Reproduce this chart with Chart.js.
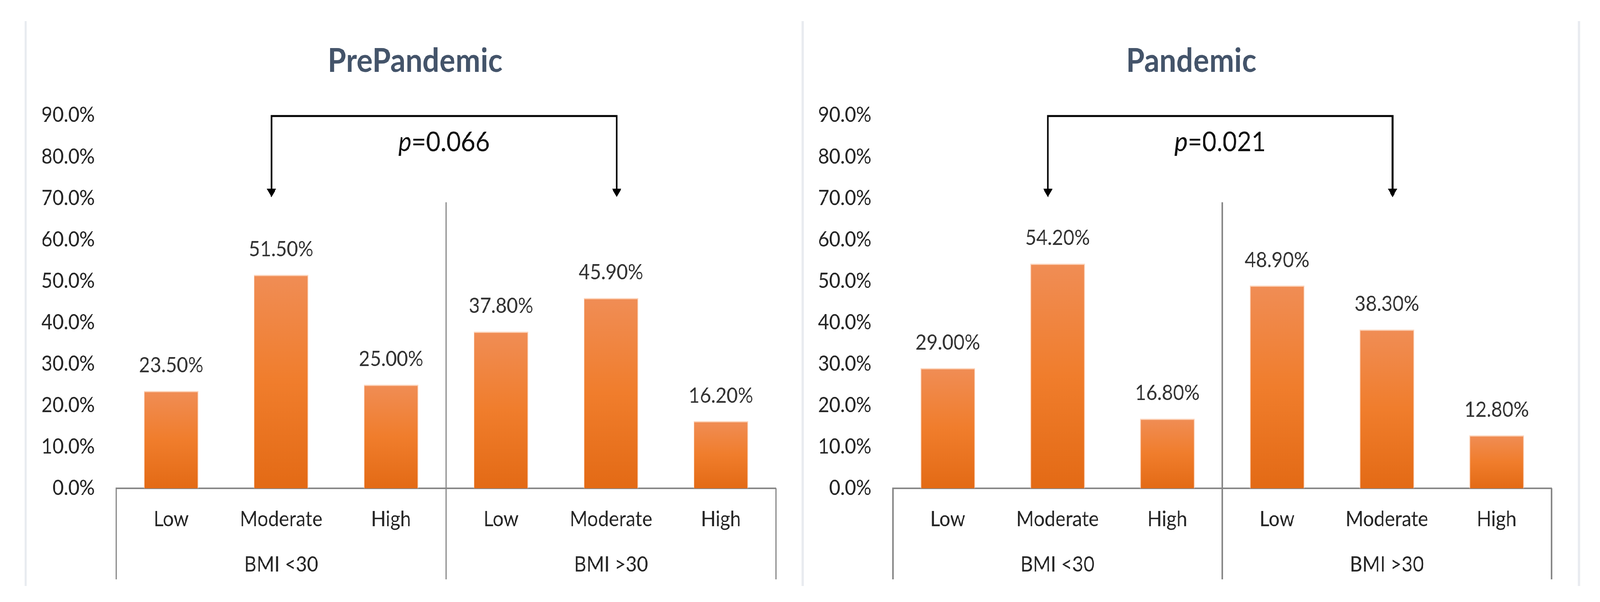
<!DOCTYPE html>
<html>
<head>
<meta charset="utf-8">
<script src="https://cdn.jsdelivr.net/npm/chart.js@4"></script>
<style>
  html, body { margin: 0; padding: 0; background: #fff; overflow: hidden; }
  #page { position: relative; width: 4489px; height: 1541px; overflow: hidden; transform-origin: 0 0; }
  .panel { position: absolute; top: 0; height: 1541px; }
  #left { left: 0; width: 2245px; }
  #right { left: 2245px; width: 2244px; }
  .frame { position: absolute; top: 54px; width: 6px; height: 1446px; background: #e8ebf0; }
</style>
</head>
<body>
<div id="page">
  <div class="frame" style="left:69px"></div>
  <div class="frame" style="left:2249px"></div>
  <div class="frame" style="left:4427px"></div>
  <div class="panel" id="left"><canvas id="preChart" width="2245" height="1541"></canvas></div>
  <div class="panel" id="right"><canvas id="panChart" width="2244" height="1541"></canvas></div>
</div>
<script>
const levels = ['Low', 'Moderate', 'High', 'Low', 'Moderate', 'High'];
const groups = ['BMI <30', 'BMI >30'];
const prePandemic = [23.5, 51.5, 25.0, 37.8, 45.9, 16.2];
const pandemic = [29.0, 54.2, 16.8, 48.9, 38.3, 12.8];
const yTicks = [0, 10, 20, 30, 40, 50, 60, 70, 80, 90];

const FONT = 'Lato, "Open Sans", sans-serif';

// the page is laid out at 4489x1541; stretch it onto the window we actually get
const sx = window.innerWidth / 4489, sy = window.innerHeight / 1541;
document.getElementById('page').style.transform = 'scale(' + sx + ',' + sy + ')';

function barFill(c) {
    const chart = c.chart;
    if (!chart.chartArea || c.raw === undefined) return '#f07f2e';
    const y = chart.scales.y;
    const top = y.getPixelForValue(c.raw);
    const bot = y.getPixelForValue(0);
    const g = chart.ctx.createLinearGradient(0, top, 0, bot);
    g.addColorStop(0, '#f08d55');
    g.addColorStop(0.5, '#f07d2c');
    g.addColorStop(1, '#e36a15');
    return g;
}

// title, value labels, bracket with arrows, group dividers
const decorations = {
    id: 'decorations',
    afterDatasetsDraw(chart, args, opts) {
        const ctx = chart.ctx;
        const x = chart.scales.x, y = chart.scales.y;
        const area = chart.chartArea;
        ctx.save();

        // title
        ctx.fillStyle = '#44546a';
        ctx.font = 'bold 84px ' + FONT;
        ctx.textAlign = 'center';
        ctx.textBaseline = 'middle';
        ctx.fillText(opts.title, (area.left + area.right) / 2 - 87, 157);

        // value labels
        ctx.fillStyle = '#333333';
        ctx.font = '54px ' + FONT;
        const meta = chart.getDatasetMeta(0);
        meta.data.forEach((bar, i) => {
            const v = chart.data.datasets[0].data[i];
            ctx.fillText(v.toFixed(2) + '%', bar.x, bar.y - 65);
        });

        // category separators
        ctx.strokeStyle = '#878787';
        ctx.lineWidth = 4;
        const mid = (x.getPixelForValue(2) + x.getPixelForValue(3)) / 2;
        const bottom = 1483;
        ctx.beginPath();
        ctx.moveTo(area.left, area.bottom); ctx.lineTo(area.left, bottom);
        ctx.moveTo(area.right, area.bottom); ctx.lineTo(area.right, bottom);
        ctx.moveTo(mid, y.getPixelForValue(69)); ctx.lineTo(mid, bottom);
        ctx.stroke();

        // bracket
        const bx1 = x.getPixelForValue(1) - 27;
        const bx2 = x.getPixelForValue(4) + 16;
        const by = y.getPixelForValue(89.8);
        const tip = y.getPixelForValue(70.2);
        ctx.strokeStyle = '#000';
        ctx.fillStyle = '#000';
        ctx.lineWidth = 5;
        ctx.beginPath();
        ctx.moveTo(bx1, tip - 18);
        ctx.lineTo(bx1, by);
        ctx.lineTo(bx2, by);
        ctx.lineTo(bx2, tip - 18);
        ctx.stroke();
        [bx1, bx2].forEach(px => {
            ctx.beginPath();
            ctx.moveTo(px - 13, tip - 22);
            ctx.lineTo(px + 13, tip - 22);
            ctx.lineTo(px, tip);
            ctx.closePath();
            ctx.fill();
        });

        // p value
        ctx.font = '70px ' + FONT;
        ctx.textBaseline = 'middle';
        ctx.textAlign = 'left';
        const rest = '=' + opts.p;
        const pw = ctx.measureText(rest).width;
        ctx.font = 'italic 70px ' + FONT;
        const iw = ctx.measureText('p').width;
        const cx = (bx1 + bx2) / 2;
        const start = cx - (pw + iw) / 2;
        const py = y.getPixelForValue(83.5);
        ctx.fillStyle = '#111';
        ctx.fillText('p', start, py);
        ctx.font = '70px ' + FONT;
        ctx.fillText(rest, start + iw, py);

        ctx.restore();
    }
};

function makeChart(id, values, title, p, yWidth, rightPad) {
    return new Chart(document.getElementById(id), {
        type: 'bar',
        data: {
            labels: levels,
            datasets: [{
                data: values,
                backgroundColor: barFill,
                borderColor: 'rgba(251, 205, 175, 0.85)',
                borderWidth: { top: 3, left: 2, right: 2, bottom: 0 },
                borderSkipped: 'bottom',
                barPercentage: 1,
                categoryPercentage: 0.497
            }]
        },
        options: {
            responsive: false,
            devicePixelRatio: 1,
            animation: false,
            layout: { padding: { top: 295, left: 0, right: rightPad, bottom: 41 } },
            plugins: {
                legend: { display: false },
                tooltip: { enabled: false },
                decorations: { title: title, p: p }
            },
            scales: {
                x: {
                    type: 'category',
                    weight: 0,
                    grid: { display: false, drawTicks: false },
                    border: { display: true, color: '#878787', width: 4 },
                    ticks: { color: '#262626', font: { family: FONT, size: 54 }, padding: 47, maxRotation: 0, autoSkip: false },
                    afterFit: s => { s.height = 130; }
                },
                x2: {
                    type: 'category',
                    position: 'bottom',
                    weight: 1,
                    labels: groups,
                    offset: true,
                    grid: { display: false, drawTicks: false },
                    border: { display: false },
                    ticks: { color: '#262626', font: { family: FONT, size: 54 }, padding: 33, maxRotation: 0 },
                    afterFit: s => { s.height = 120; }
                },
                y: {
                    min: 0,
                    max: 90,
                    grid: { display: false, drawTicks: false },
                    border: { display: false },
                    afterBuildTicks: s => { s.ticks = yTicks.map(v => ({ value: v })); },
                    ticks: {
                        color: '#262626',
                        font: { family: FONT, size: 54 },
                        padding: 60,
                        callback: v => v.toFixed(1) + '%'
                    },
                    afterFit: s => { s.width = yWidth; }
                }
            }
        },
        plugins: [decorations]
    });
}

makeChart('preChart', prePandemic, 'PrePandemic', '0.066', 326, 68);
makeChart('panChart', pandemic, 'Pandemic', '0.021', 260, 136);
</script>
</body>
</html>
